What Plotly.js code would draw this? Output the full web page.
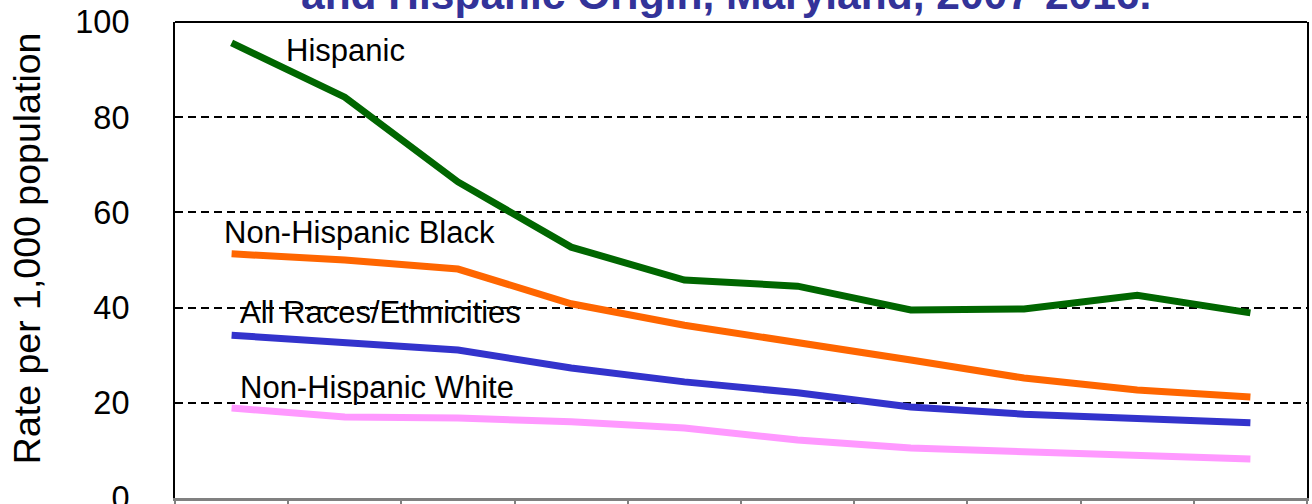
<!DOCTYPE html>
<html>
<head>
<meta charset="utf-8">
<script src="https://cdn.plot.ly/plotly-3.0.1.min.js"></script>
<style>html,body{margin:0;padding:0;background:#fff;}#chart{width:1312px;height:504px;}</style>
</head>
<body>
<div id="chart"></div>
<script>
const years = ["2007","2008","2009","2010","2011","2012","2013","2014","2015","2016"];
const hispanic = [95.6, 84.2, 66.4, 52.7, 45.8, 44.5, 39.5, 39.7, 42.6, 38.9];
const nhBlack = [51.3, 50.0, 48.1, 40.8, 36.3, 32.8, 29.0, 25.2, 22.7, 21.2];
const allRaces = [34.2, 32.6, 31.1, 27.3, 24.4, 22.1, 19.1, 17.6, 16.6, 15.8];
const nhWhite = [18.9, 17.0, 16.8, 16.0, 14.7, 12.2, 10.5, 9.7, 8.8, 8.2];
const seriesNames = ["Hispanic", "Non-Hispanic Black", "All Races/Ethnicities", "Non-Hispanic White"];
const yTicks = [0, 20, 40, 60, 80, 100];

const colors = ["#006600", "#FF6600", "#3333CC", "#FF99FF"];
const seriesData = [hispanic, nhBlack, allRaces, nhWhite];
const traces = seriesData.map((d, i) => ({
  x: years, y: d, type: 'scatter', mode: 'lines', name: seriesNames[i],
  line: {color: colors[i], width: 7}, hoverinfo: 'skip'
}));

const labelPos = [
  {x: 0.46, y: 94.0},
  {x: -0.085, y: 55.8},
  {x: 0.056, y: 39.0},
  {x: 0.056, y: 23.3}
];
const annotations = seriesNames.map((n, i) => ({
  text: n, x: labelPos[i].x, y: labelPos[i].y, xref: 'x', yref: 'y',
  xanchor: 'left', yanchor: 'middle', showarrow: false,
  font: {family: 'Liberation Sans, Arial, sans-serif', size: 31, color: '#000'}
}));
annotations.push({
  text: '<b>and Hispanic Origin, Maryland, 2007-2016.</b>',
  xref: 'paper', yref: 'paper', x: 0.487, y: 1.0, xanchor: 'center', yanchor: 'bottom',
  yshift: 2, showarrow: false,
  font: {family: 'Liberation Sans, Arial, sans-serif', size: 42.5, color: '#333399'}
});
annotations.push({
  text: 'Rate per 1,000 population',
  xref: 'paper', yref: 'paper', x: -0.1307, y: 0.525, xanchor: 'center', yanchor: 'middle',
  textangle: -90, showarrow: false,
  font: {family: 'Liberation Sans, Arial, sans-serif', size: 37.5, color: '#000'}
});

const layout = {
  width: 1312, height: 504,
  margin: {l: 175, r: 5, t: 22, b: 6},
  paper_bgcolor: '#fff', plot_bgcolor: '#fff',
  showlegend: false,
  font: {family: 'Liberation Sans, Arial, sans-serif', color: '#000'},
  xaxis: {
    type: 'category', range: [-0.5, 9.5], tickson: 'boundaries',
    ticks: 'outside', ticklen: 12, tickwidth: 2, tickcolor: '#808080',
    showline: true, linecolor: '#808080', linewidth: 3,
    showgrid: false, zeroline: false, showticklabels: false, fixedrange: true
  },
  yaxis: {
    range: [0, 100], tickvals: yTicks, ticktext: yTicks.map(String),
    ticks: '', ticklabelstandoff: 37, ticklabeloverflow: 'allow',
    tickfont: {size: 32.5, color: '#000'},
    showline: true, linecolor: '#000', linewidth: 2, mirror: true,
    showgrid: true, gridcolor: '#000', gridwidth: 2, griddash: '8px,5px',
    zeroline: false, fixedrange: true
  },
  shapes: [
    {type: 'line', xref: 'paper', yref: 'paper', x0: 0, x1: 1, y0: 1, y1: 1, line: {color: '#000', width: 2}}
  ],
  annotations: annotations
};

Plotly.newPlot('chart', traces, layout, {displayModeBar: false, staticPlot: true});
</script>
</body>
</html>
